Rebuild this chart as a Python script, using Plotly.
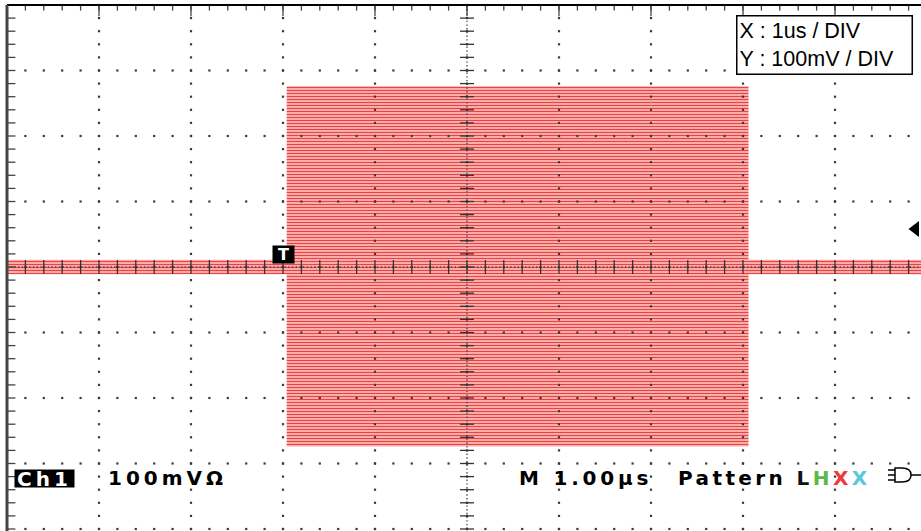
import numpy as np
import plotly.graph_objects as go

# ---------------- data ----------------
# burst envelope of channel 1: time in microseconds, amplitude in mV
TIME_US = [-5.0, -1.96, -1.96, 3.06, 3.06, 5.0]
ENV_HIGH_MV = [11, 11, 276, 276, 11, 11]
ENV_LOW_MV = [-11, -11, -274, -274, -11, -11]
TRIGGER_TIME_US = -2.0
TRIGGER_LEVEL_MV = 58

# scope graticule: 1 us / div, 100 mV / div
X_DIV_US = 1.0
Y_DIV_MV = 100.0
X_DIVS = 10
Y_DIVS = 8

INFO_LINES = ["X : 1us / DIV", "Y : 100mV / DIV"]
CH_LABEL = "Ch1"
SCALE_LABEL = "100mVΩ"
TIME_LABEL = "M 1.00µs"
PATTERN_LABEL = "Pattern"
PATTERN_STATES = ["L", "H", "X", "X"]
PATTERN_COLORS = ["#111111", "#5cb84a", "#ee3a3a", "#5ac8dc"]

# ---------------- layout geometry ----------------
W, H = 921, 531
ML, MT = 7, 5
PW, PH = W - ML, H - MT
X_MIN = -X_DIVS / 2 * X_DIV_US
X_MAX = X_MIN + PW / 92.0
Y_MAX = Y_DIVS / 2 * Y_DIV_MV
Y_MIN = Y_MAX - PH / 0.655


def px(xp):
    return (xp - ML) / PW


def py(yp):
    return (H - yp) / PH


fig = go.Figure()

# ---------------- signal band ----------------
band_x = TIME_US + TIME_US[::-1]
band_y = ENV_HIGH_MV + ENV_LOW_MV[::-1]
fig.add_trace(go.Scatter(
    x=band_x, y=band_y, mode="lines", fill="toself",
    line=dict(width=0, color="#f04040"),
    fillcolor="white",
    fillpattern=dict(shape="-", fgcolor="#f04040", bgcolor="white",
                     size=3, solidity=0.62, fillmode="replace"),
    hoverinfo="skip"))

# ---------------- graticule ----------------
x_major = np.arange(X_MIN, X_MIN + X_DIVS * X_DIV_US + 1e-9, X_DIV_US)
x_minor = np.arange(X_MIN, X_MIN + X_DIVS * X_DIV_US + 1e-9, X_DIV_US / 5)
y_major = np.arange(-Y_MAX, Y_MAX + 1e-9, Y_DIV_MV)
y_minor = np.arange(-Y_MAX, Y_MAX + 1e-9, Y_DIV_MV / 5)

gx, gy = [], []
for yv in y_major:
    gx += list(x_minor)
    gy += [yv] * len(x_minor)
for xv in x_major:
    gx += [xv] * len(y_minor)
    gy += list(y_minor)
fig.add_trace(go.Scatter(x=gx, y=gy, mode="markers",
                         marker=dict(symbol="square", size=2.2, color="#3a3a3a",
                                     line=dict(width=0)),
                         hoverinfo="skip"))

# dense dotted centre lines
fig.add_trace(go.Scatter(x=[X_MIN, X_MIN + X_DIVS], y=[0, 0], mode="lines",
                         line=dict(color="#444444", width=1.3, dash="1.4px,2.3px"),
                         hoverinfo="skip"))
fig.add_trace(go.Scatter(x=[0, 0], y=[-Y_MAX, Y_MAX], mode="lines",
                         line=dict(color="#444444", width=1.3, dash="1.4px,2.3px"),
                         hoverinfo="skip"))

# centre tick marks
fig.add_trace(go.Scatter(x=x_minor, y=[0] * len(x_minor), mode="markers",
                         marker=dict(symbol="line-ns", size=10,
                                     line=dict(width=1.3, color="#333333")),
                         hoverinfo="skip"))
fig.add_trace(go.Scatter(x=[0] * len(y_minor), y=y_minor, mode="markers",
                         marker=dict(symbol="line-ew", size=10,
                                     line=dict(width=1.3, color="#333333")),
                         hoverinfo="skip"))
# edge tick marks (left and top)
fig.add_trace(go.Scatter(x=[X_MIN] * len(y_minor), y=y_minor, mode="markers",
                         marker=dict(symbol="line-ew", size=12,
                                     line=dict(width=1.3, color="#444444")),
                         hoverinfo="skip"))
fig.add_trace(go.Scatter(x=x_minor, y=[Y_MAX] * len(x_minor), mode="markers",
                         marker=dict(symbol="line-ns", size=8,
                                     line=dict(width=1.3, color="#444444")),
                         hoverinfo="skip"))
fig.add_trace(go.Scatter(x=x_major, y=[Y_MAX] * len(x_major), mode="markers",
                         marker=dict(symbol="line-ns", size=16,
                                     line=dict(width=1.3, color="#444444")),
                         hoverinfo="skip"))

# trigger level arrow at the right edge
fig.add_trace(go.Scatter(x=[X_MAX - 0.06], y=[TRIGGER_LEVEL_MV], mode="markers",
                         marker=dict(symbol="triangle-left", size=14, color="black"),
                         hoverinfo="skip"))

# ---------------- frame ----------------
shapes = [
    dict(type="line", xref="paper", yref="paper", x0=0, x1=1, y0=1, y1=1,
         line=dict(color="black", width=2)),
    dict(type="line", xref="paper", yref="paper", x0=0, x1=0, y0=0, y1=1,
         line=dict(color="#444444", width=3)),
]

# logic gate icon (bottom right)
gp = []
for yy in (470, 475, 480):
    gp.append(f"M{px(888):.5f},{py(yy):.5f} H{px(895):.5f}")
shapes.append(dict(type="path", xref="paper", yref="paper", path=" ".join(gp),
                   line=dict(color="black", width=1.5)))
dpath = (f"M{px(895):.5f},{py(468):.5f} L{px(902):.5f},{py(468):.5f} "
         f"Q{px(911):.5f},{py(468):.5f} {px(911):.5f},{py(475):.5f} "
         f"Q{px(911):.5f},{py(482):.5f} {px(902):.5f},{py(482):.5f} "
         f"L{px(895):.5f},{py(482):.5f} Z "
         f"M{px(911):.5f},{py(475):.5f} L{px(921):.5f},{py(475):.5f}")
shapes.append(dict(type="path", xref="paper", yref="paper", path=dpath,
                   line=dict(color="black", width=1.5)))

# ---------------- annotations ----------------
TEK = "DejaVu Sans"
annotations = [
    # info box
    dict(xref="paper", yref="paper", x=px(736), y=py(15), xanchor="left", yanchor="top",
         text="<br>".join(INFO_LINES), align="left", showarrow=False,
         font=dict(family="Liberation Sans, Arial", size=21.5, color="black"),
         bgcolor="white", bordercolor="black", borderwidth=1.5, borderpad=2,
         width=170, height=53),
    # trigger position marker
    dict(x=TRIGGER_TIME_US, y=0, xref="x", yref="y", yanchor="bottom", yshift=3,
         text="<b>T</b>", showarrow=False, bgcolor="black",
         font=dict(family=TEK, size=16, color="white"), width=17, height=13, borderpad=2),
    # bottom status line
    dict(xref="paper", yref="paper", x=px(14), y=py(478), xanchor="left", yanchor="middle",
         text=f'<span style="letter-spacing:4px">{CH_LABEL}</span>', showarrow=False,
         bgcolor="black", font=dict(family=TEK, size=20, color="white", weight="bold"),
         width=59, height=17, borderpad=0),
    dict(xref="paper", yref="paper", x=px(106), y=py(478), xanchor="left", yanchor="middle",
         text=f'<span style="letter-spacing:4px">{SCALE_LABEL}</span>', showarrow=False,
         font=dict(family=TEK, size=20, color="black", weight="bold")),
    dict(xref="paper", yref="paper", x=px(517), y=py(478), xanchor="left", yanchor="middle",
         text=f'<span style="letter-spacing:3.8px">{TIME_LABEL}</span>', showarrow=False,
         font=dict(family=TEK, size=20, color="black", weight="bold")),
]
pat = f'<span style="letter-spacing:3.4px">{PATTERN_LABEL} </span>'
for s, c in zip(PATTERN_STATES, PATTERN_COLORS):
    pat += f'<span style="letter-spacing:3.4px;color:{c}">{s}</span>'
annotations.append(dict(xref="paper", yref="paper", x=px(676), y=py(478),
                        xanchor="left", yanchor="middle", text=pat, showarrow=False,
                        font=dict(family=TEK, size=20, color="black", weight="bold")))

fig.update_layout(
    width=W, height=H,
    margin=dict(l=ML, r=0, t=MT, b=0),
    paper_bgcolor="white", plot_bgcolor="white",
    showlegend=False,
    xaxis=dict(range=[X_MIN, X_MAX], showgrid=False, zeroline=False,
               showticklabels=False, ticks="", showline=False, fixedrange=True),
    yaxis=dict(range=[Y_MIN, Y_MAX], showgrid=False, zeroline=False,
               showticklabels=False, ticks="", showline=False, fixedrange=True),
    shapes=shapes,
    annotations=annotations,
)

fig.write_html("out.html", config={"displayModeBar": False},
               post_script="document.body.style.margin='0px';")
